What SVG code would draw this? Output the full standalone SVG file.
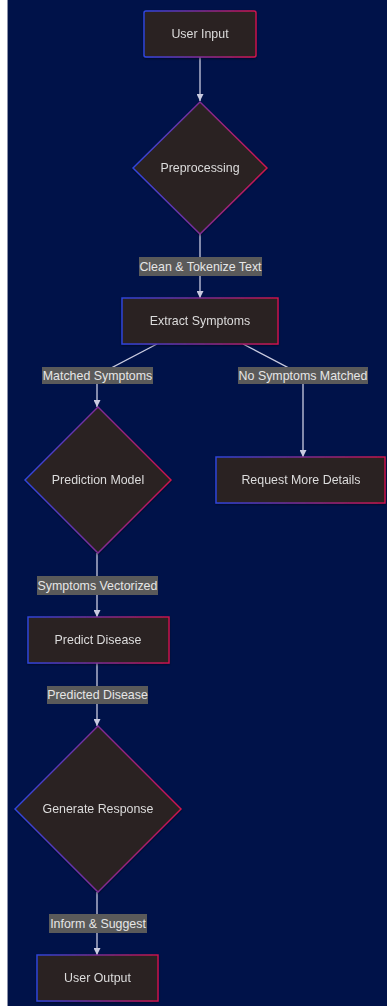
<svg xmlns="http://www.w3.org/2000/svg" width="387" height="1006" viewBox="0 0 387 1006">
<defs>
<linearGradient id="edgeGrad" x1="0" y1="0" x2="1" y2="0">
<stop offset="0" stop-color="#2f46e0"/>
<stop offset="1" stop-color="#d0144c"/>
</linearGradient>
<marker id="arrow" viewBox="0 0 10 10" refX="10" refY="5" markerWidth="7" markerHeight="7" markerUnits="userSpaceOnUse" orient="auto">
<path d="M0,0 L10,5 L0,10 z" fill="#c9cbe0"/>
</marker>
<filter id="glow" x="-10%" y="-10%" width="120%" height="120%">
<feGaussianBlur in="SourceAlpha" stdDeviation="1.2"/>
<feOffset dx="0" dy="1"/>
<feComponentTransfer><feFuncA type="linear" slope="0.5"/></feComponentTransfer>
<feMerge><feMergeNode/><feMergeNode in="SourceGraphic"/></feMerge>
</filter>
</defs>
<style>
.node{fill:#2a2121;stroke:url(#edgeGrad);stroke-width:1.4;}
.ntext{font-family:"Liberation Sans",Arial,sans-serif;font-size:12.4px;fill:#dcdcdc;text-anchor:middle;dominant-baseline:central;}
.edge{fill:none;stroke:#c9cbe0;stroke-width:1.3;}
.lbox{fill:#5a5a5a;}
.ltext{font-family:"Liberation Sans",Arial,sans-serif;font-size:12.4px;fill:#e6e6e6;text-anchor:middle;dominant-baseline:central;}
</style>
<rect x="0" y="0" width="387" height="1006" fill="#ffffff"/>
<rect x="8" y="0" width="379" height="1006" fill="#001249"/>
<line x1="7.5" y1="0" x2="7.5" y2="1006" stroke="#8a90a8" stroke-width="1"/>

<g id="connectors">
<path class="edge" d="M200,57 L200,101" marker-end="url(#arrow)"/>
<path class="edge" d="M200,234 L200,298" marker-end="url(#arrow)"/>
<path class="edge" d="M157,344 L97,375.5 L97,407" marker-end="url(#arrow)"/>
<path class="edge" d="M243,344 L303,375.5 L303,457" marker-end="url(#arrow)"/>
<path class="edge" d="M97,553 L97,617" marker-end="url(#arrow)"/>
<path class="edge" d="M97,663 L97,726" marker-end="url(#arrow)"/>
<path class="edge" d="M97,892 L97,955" marker-end="url(#arrow)"/>
<g id="edge-labels">
<rect class="lbox" x="139" y="257" width="123" height="19"/>
<text class="ltext" x="200.5" y="266.5">Clean &amp; Tokenize Text</text>
<rect class="lbox" x="42" y="367" width="111" height="17"/>
<text class="ltext" x="97.5" y="375.5">Matched Symptoms</text>
<rect class="lbox" x="238" y="367" width="130" height="17"/>
<text class="ltext" x="303" y="375.5">No Symptoms Matched</text>
<rect class="lbox" x="37" y="576" width="121" height="19"/>
<text class="ltext" x="97.5" y="585.5">Symptoms Vectorized</text>
<rect class="lbox" x="47" y="686" width="101" height="18"/>
<text class="ltext" x="97.5" y="695">Predicted Disease</text>
<rect class="lbox" x="49" y="914" width="98" height="19"/>
<text class="ltext" x="98" y="923.5">Inform &amp; Suggest</text>
</g>
</g>

<g id="user-input" filter="url(#glow)">
<rect class="node" x="144" y="11" width="112" height="46" rx="2"/>
<text class="ntext" x="200" y="34">User Input</text>
</g>
<g id="preprocessing" filter="url(#glow)">
<polygon class="node" points="200,102 267,168 200,234 133,168"/>
<text class="ntext" x="200" y="168">Preprocessing</text>
</g>
<g id="extract-symptoms" filter="url(#glow)">
<rect class="node" x="122" y="298" width="156" height="46"/>
<text class="ntext" x="200" y="321">Extract Symptoms</text>
</g>
<g id="prediction-model" filter="url(#glow)">
<polygon class="node" points="98,407 171,480 98,553 25,480"/>
<text class="ntext" x="98" y="480">Prediction Model</text>
</g>
<g id="request-more-details" filter="url(#glow)">
<rect class="node" x="216" y="457" width="169" height="46"/>
<text class="ntext" x="301" y="480">Request More Details</text>
</g>
<g id="predict-disease" filter="url(#glow)">
<rect class="node" x="28" y="617" width="141" height="46"/>
<text class="ntext" x="98" y="640">Predict Disease</text>
</g>
<g id="generate-response" filter="url(#glow)">
<polygon class="node" points="98,726 181,809 98,892 15,809"/>
<text class="ntext" x="98" y="809">Generate Response</text>
</g>
<g id="user-output" filter="url(#glow)">
<rect class="node" x="37" y="955" width="121" height="46"/>
<text class="ntext" x="97.5" y="978">User Output</text>
</g>
</svg>
